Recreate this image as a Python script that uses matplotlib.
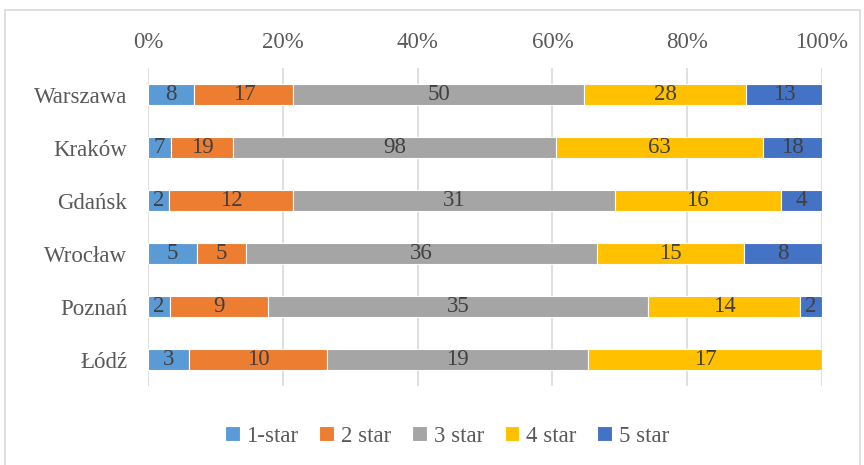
import matplotlib.pyplot as plt
import numpy as np

plt.rcParams['font.family'] = ['Liberation Serif', 'DejaVu Serif']

cities = ['Warszawa', 'Kraków', 'Gdańsk', 'Wrocław', 'Poznań', 'Łódź']
star1 = [8, 7, 2, 5, 2, 3]
star2 = [17, 19, 12, 5, 9, 10]
star3 = [50, 98, 31, 36, 35, 19]
star4 = [28, 63, 16, 15, 14, 17]
star5 = [13, 18, 4, 8, 2, 0]
labels = ['1-star', '2 star', '3 star', '4 star', '5 star']
colors = ['#5B9BD5', '#ED7D31', '#A5A5A5', '#FFC000', '#4472C4']

data = np.array([star1, star2, star3, star4, star5], dtype=float)
share = data / data.sum(axis=0)

fig = plt.figure(figsize=(8.64, 4.65), dpi=100)
ax = fig.add_axes([148/864, 1 - 386/465, (822-148)/864, (386-68)/465])

fs = 16.5
y = np.arange(len(cities))
left = np.zeros(len(cities))
for i in range(5):
    bars = ax.barh(y, share[i], left=left, height=0.4, color=colors[i],
                   edgecolor='white', linewidth=0.8, label=labels[i], zorder=3)
    for j, b in enumerate(bars):
        if data[i, j] > 0:
            ax.text(left[j] + share[i, j] / 2, y[j], '%d' % data[i, j],
                    ha='center', va='center', fontsize=fs, color='#404040', zorder=4)
    left += share[i]

ax.set_xlim(0, 1)
ax.set_ylim(len(cities) - 0.5, -0.5)
ax.set_yticks(y)
ax.set_yticklabels(cities)
ax.set_xticks(np.linspace(0, 1, 6))
ax.set_xticklabels(['0%', '20%', '40%', '60%', '80%', '100%'])
ax.xaxis.tick_top()
ax.tick_params(axis='both', length=0, labelsize=fs, labelcolor='#595959')
ax.tick_params(axis='x', pad=11)
ax.tick_params(axis='y', pad=15)
ax.grid(axis='x', color='#D9D9D9', linewidth=1.2, zorder=0)
for s in ax.spines.values():
    s.set_visible(False)

fig.legend(loc='center', bbox_to_anchor=(447/864, 1 - 436/465), ncol=5, frameon=False,
           fontsize=fs, handlelength=0.65, handleheight=0.65, handletextpad=0.3,
           columnspacing=0.9, labelcolor='#595959')

fig.patches.append(plt.Rectangle((5/864, -0.02), 855/864, 1.02 - 10/465, transform=fig.transFigure,
                                 fill=False, edgecolor='#D9D9D9', linewidth=1.2))

fig.savefig('out.png', dpi=100)
